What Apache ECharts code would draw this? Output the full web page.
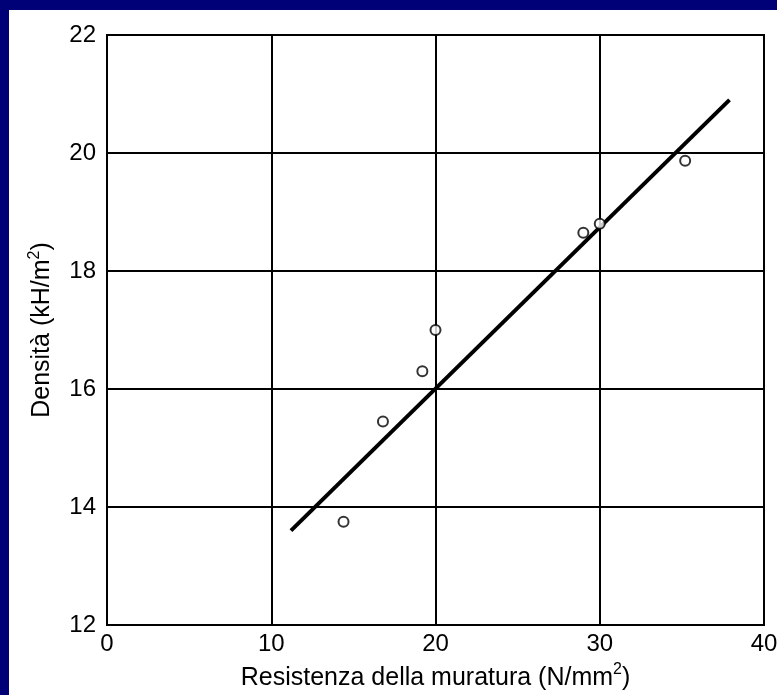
<!DOCTYPE html>
<html>
<head>
<meta charset="utf-8">
<script src="https://cdn.jsdelivr.net/npm/echarts@6/dist/echarts.min.js"></script>
<style>
html,body{margin:0;padding:0;background:#fff;}
#c{width:777px;height:695px;}
</style>
</head>
<body>
<div id="c"></div>
<script>
// Data
var resistenza = [14.4, 16.8, 19.2, 20.0, 29.0, 30.0, 35.2];
var densita = [13.75, 15.45, 16.3, 17.0, 18.65, 18.8, 19.87];
var fitX = [11.2, 37.9];
var fitY = [13.6, 20.9];
var xTicks = [0, 10, 20, 30, 40];
var yTicks = [12, 14, 16, 18, 20, 22];

var points = resistenza.map(function (x, i) { return [x, densita[i]]; });
var fitLine = fitX.map(function (x, i) { return [x, fitY[i]]; });

var chart = echarts.init(document.getElementById('c'), null, {renderer: 'canvas'});
var font = 'Liberation Sans, Arial, Helvetica, sans-serif';
var supStyle = {fontSize: 16, lineHeight: 14, verticalAlign: 'top', color: '#000', fontFamily: font};
chart.setOption({
  backgroundColor: '#ffffff',
  animation: false,
  graphic: [
    {type: 'rect', left: 0, top: 0, shape: {width: 777, height: 10}, style: {fill: '#000077'}, z: 100},
    {type: 'rect', left: 0, top: 0, shape: {width: 9, height: 695}, style: {fill: '#000077'}, z: 100}
  ],
  grid: {left: 107, top: 35, right: 13, bottom: 70, show: true, borderColor: '#000', borderWidth: 2,
    containLabel: false, outerBoundsMode: 'none'},
  xAxis: {
    type: 'value', min: xTicks[0], max: xTicks[xTicks.length - 1], interval: 10,
    axisLine: {show: true, lineStyle: {color: '#000', width: 2}},
    axisTick: {show: false},
    axisLabel: {color: '#000', fontSize: 24, fontFamily: font, margin: 7,
      formatter: function (v) { return xTicks.indexOf(v) >= 0 ? String(v) : ''; }},
    splitLine: {show: true, lineStyle: {color: '#000', width: 2}},
    name: 'Resistenza della muratura (N/mm{sup|2})',
    nameLocation: 'middle', nameGap: 37,
    nameTextStyle: {color: '#000', fontSize: 25, lineHeight: 32, fontFamily: font, rich: {sup: supStyle}}
  },
  yAxis: {
    type: 'value', min: yTicks[0], max: yTicks[yTicks.length - 1], interval: 2,
    axisLine: {show: true, lineStyle: {color: '#000', width: 2}},
    axisTick: {show: false},
    axisLabel: {color: '#000', fontSize: 24, fontFamily: font, margin: 11,
      formatter: function (v) { return yTicks.indexOf(v) >= 0 ? String(v) : ''; }},
    splitLine: {show: true, lineStyle: {color: '#000', width: 2}},
    name: 'Densità (kH/m{sup|2})',
    nameLocation: 'middle', nameGap: 46,
    nameTextStyle: {color: '#000', fontSize: 25, lineHeight: 32, fontFamily: font, rich: {sup: supStyle}}
  },
  series: [
    {
      type: 'line', data: fitLine, showSymbol: false, symbol: 'none',
      lineStyle: {color: '#000', width: 4}, z: 3
    },
    {
      type: 'scatter', data: points, symbol: 'circle', symbolSize: 10,
      itemStyle: {color: '#fff', borderColor: '#000', borderWidth: 2}, z: 5
    }
  ]
});
</script>
</body>
</html>
